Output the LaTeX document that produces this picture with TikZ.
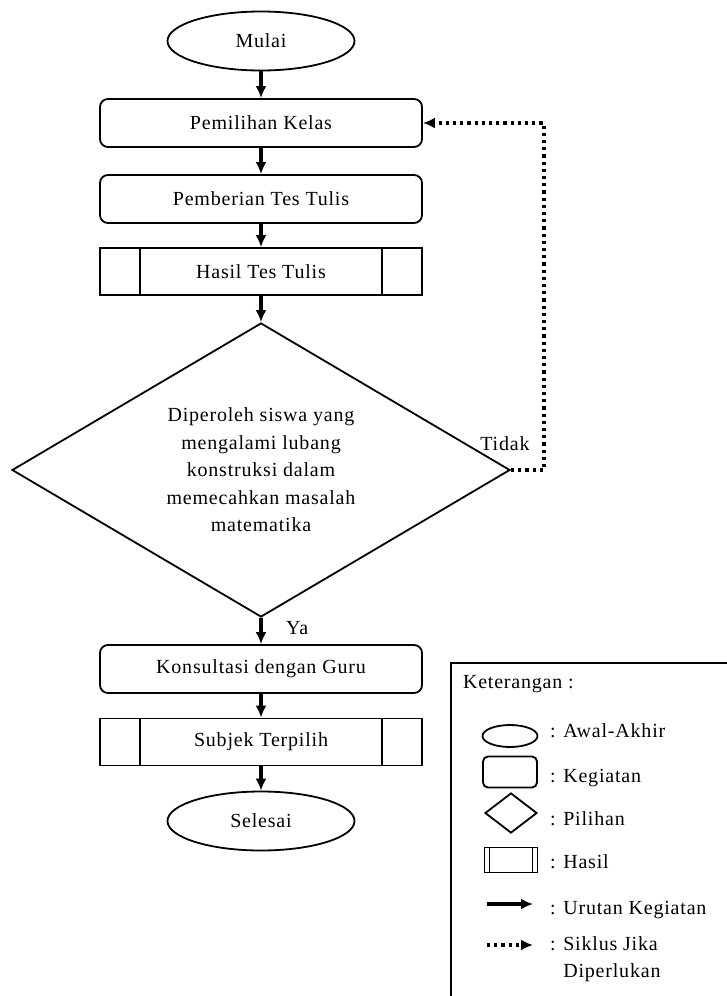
\documentclass[tikz,border=0pt]{standalone}
\usepackage{fontspec}
\setmainfont{Liberation Serif}[LetterSpace=4]
\usetikzlibrary{shapes.geometric,arrows.meta}

\begin{document}
\begin{tikzpicture}[x=1pt,y=-1pt,
  font=\fontsize{20}{27.5}\selectfont,
  mulai/.style={ellipse,draw,line width=1.8pt,minimum width=187pt,minimum height=59pt,inner sep=0pt},
  kegiatan/.style={rectangle,rounded corners=8pt,draw,line width=1.8pt,minimum width=322pt,minimum height=48pt},
  hasil/.style={rectangle,draw,line width=1.8pt,minimum width=322pt,minimum height=47pt,
    path picture={
      \draw[line width=1.8pt] ([xshift=#1]path picture bounding box.north west) -- ([xshift=#1]path picture bounding box.south west);
      \draw[line width=1.8pt] ([xshift=-#1]path picture bounding box.north east) -- ([xshift=-#1]path picture bounding box.south east);}},
  hasil/.default=40pt,
  pilihan/.style={diamond,aspect=1.7,draw,line width=1.8pt,minimum width=498pt,minimum height=294pt,inner sep=0pt,align=center},
  urutan/.style={-{Latex[length=12pt,width=11pt]},line width=3.4pt},
  siklus/.style={-{Latex[length=12pt,width=11pt]},line width=3.2pt,dash pattern=on 3.2pt off 4pt},
  ket/.style={anchor=west,text height=14pt,text depth=4pt}
]
  \useasboundingbox (0,0) rectangle (727,996);

  % alur utama
  \node[mulai] (mulai) at (261,41) {Mulai};
  \node[kegiatan] (kelas) at (261,123) {Pemilihan Kelas};
  \node[kegiatan] (tes) at (261,199) {Pemberian Tes Tulis};
  \node[hasil] (hasiltes) at (261,271.5) {Hasil Tes Tulis};
  \node[pilihan] (lubang) at (261,470) {Diperoleh siswa yang\\mengalami lubang\\konstruksi dalam\\memecahkan masalah\\matematika};
  \node[kegiatan] (guru) at (261,669) {Konsultasi dengan Guru};
  \node[hasil] (subjek) at (261,742) {Subjek Terpilih};
  \node[mulai] (selesai) at (261,821) {Selesai};

  \draw[urutan] (mulai) -- (kelas);
  \draw[urutan] (kelas) -- (tes);
  \draw[urutan] (tes) -- (hasiltes);
  \draw[urutan] (hasiltes) -- (lubang);
  \draw[urutan] (lubang) -- node[anchor=west,xshift=20pt,yshift=3pt] {Ya} (guru);
  \draw[urutan] (guru) -- (subjek);
  \draw[urutan] (subjek) -- (selesai);

  % siklus
  \coordinate (sikluskanan) at (544,123);
  \draw[siklus] (lubang.east) -| (sikluskanan) -- (kelas.east);
  \node (tidak) at (505,444) {Tidak};

  % keterangan
  \draw[line width=1.8pt] (451,996) |- (727,663);
  \node[ket] (keterangan) at (459.5,683) {Keterangan :};
  \node[mulai,minimum width=55pt,minimum height=22pt] (lawal) at (510,736) {};
  \node[kegiatan,minimum width=54pt,minimum height=31pt,rounded corners=5pt] (lkeg) at (510,772) {};
  \node[pilihan,minimum width=52pt,minimum height=40pt] (lpil) at (511,813) {};
  \node[hasil=5pt,minimum width=53pt,minimum height=25pt] (lhas) at (511,860) {};
  \coordinate (urutA) at (487,904);
  \coordinate (urutB) at (533,904);
  \draw[urutan] (urutA) -- (urutB);
  \coordinate (siklusA) at (487,945);
  \coordinate (siklusB) at (533,945);
  \draw[siklus] (siklusA) -- (siklusB);
  \node[ket] (tawal) at (546.5,732) {: Awal-Akhir};
  \node[ket] (tkeg) at (546.5,777) {: Kegiatan};
  \node[ket] (tpil) at (546.5,820) {: Pilihan};
  \node[ket] (thas) at (546.5,863) {: Hasil};
  \node[ket] (turut) at (546.5,909) {: Urutan Kegiatan};
  \node[anchor=north west,align=left] (tsiklus) at (546.5,933) {: Siklus Jika\\\phantom{: }Diperlukan};
\end{tikzpicture}
\end{document}
